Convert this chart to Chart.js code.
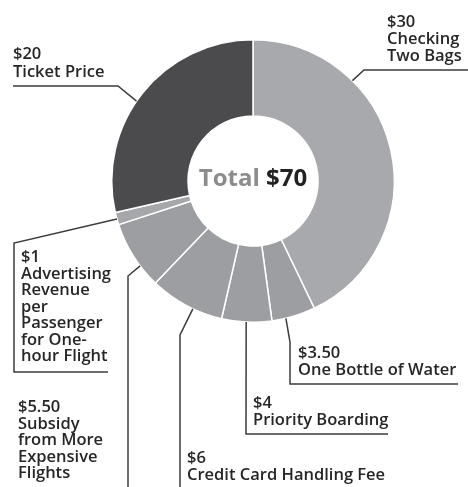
<!DOCTYPE html>
<html>
<head>
<meta charset="utf-8">
<script src="https://cdn.jsdelivr.net/npm/chart.js@4"></script>
<style>
  html, body { margin: 0; padding: 0; background: #fff; }
  #wrap { width: 468px; height: 487px; position: relative; }
</style>
</head>
<body>
<div id="wrap"><canvas id="fees"></canvas></div>
<script>
// what a $70 flight is made of
var categories = [
  ["Checking", "Two Bags"],
  ["One Bottle of Water"],
  ["Priority Boarding"],
  ["Credit Card Handling Fee"],
  ["Subsidy", "from More", "Expensive", "Flights"],
  ["Advertising", "Revenue", "per", "Passenger", "for One-", "hour Flight"],
  ["Ticket Price"]
];
var amounts = [30, 3.5, 4, 6, 5.5, 1, 20];
var totalLabel = ["Total", "$70"];

var sliceColors = ["#a8a9ac", "#9d9ea1", "#9d9ea1", "#9d9ea1", "#9d9ea1", "#a6a7aa", "#4b4b4e"];

// where each callout sits: text origin, line gap, where on the slice the
// leader starts (0..1 along the arc) and the bends it makes afterwards
var callouts = [
  { x: 387, y: 27,  gap: 17,   at: 0.29, path: [[364, 70], [468, 70]] },
  { x: 298, y: 358, gap: 17,   at: 0.68, path: [[290, 342], [290, 384], [458, 384]] },
  { x: 253, y: 408, gap: 17,   at: 0.51, path: [[246, 434], [388, 434]] },
  { x: 187, y: 463, gap: 16.5, at: 0.40, path: [[180, 335], [180, 487]] },
  { x: 18,  y: 412, gap: 16.5, at: 0.33, path: [[128, 276], [128, 487]] },
  { x: 21,  y: 262, gap: 16.5, at: 0.47, path: [[14, 243], [14, 372], [108, 372]] },
  { x: 13,  y: 59,  gap: 18,   at: 0.46, path: [[118, 86], [13, 86]] }
];

function money(v) {
  return "$" + (Number.isInteger(v) ? v : v.toFixed(2));
}

var calloutPlugin = {
  id: "callouts",
  afterDatasetsDraw: function(chart) {
    var ctx = chart.ctx;
    var arcs = chart.getDatasetMeta(0).data;
    ctx.save();

    // leader lines
    ctx.strokeStyle = "#3c3c3c";
    ctx.lineWidth = 1.5;
    ctx.lineJoin = "miter";
    arcs.forEach(function(arc, i) {
      var c = callouts[i];
      var p = arc.getProps(["x", "y", "startAngle", "endAngle", "outerRadius"], true);
      var a = p.startAngle + c.at * (p.endAngle - p.startAngle);
      ctx.beginPath();
      ctx.moveTo(p.x + Math.cos(a) * p.outerRadius, p.y + Math.sin(a) * p.outerRadius);
      c.path.forEach(function(pt) { ctx.lineTo(pt[0], pt[1]); });
      ctx.stroke();
    });

    // label text
    ctx.fillStyle = "#262626";
    ctx.textBaseline = "alphabetic";
    ctx.textAlign = "left";
    ctx.font = "600 16.5px 'Open Sans'";
    amounts.forEach(function(v, i) {
      var c = callouts[i];
      var lines = [money(v)].concat(categories[i]);
      lines.forEach(function(t, k) {
        ctx.fillText(t, c.x, c.y + k * c.gap);
      });
    });

    // total in the hole
    var cx = arcs[0].x, cy = arcs[0].y;
    ctx.font = "700 24px 'Open Sans'";
    var w1 = ctx.measureText(totalLabel[0] + " ").width;
    var w2 = ctx.measureText(totalLabel[1]).width;
    var left = cx - (w1 + w2) / 2;
    ctx.fillStyle = "#8c8c8e";
    ctx.fillText(totalLabel[0], left, cy + 5);
    ctx.fillStyle = "#222";
    ctx.fillText(totalLabel[1], left + w1, cy + 5);
    ctx.restore();
  }
};

new Chart(document.getElementById("fees"), {
  type: "doughnut",
  data: {
    labels: categories.map(function(c) { return c.join(" "); }),
    datasets: [{
      data: amounts,
      backgroundColor: sliceColors,
      borderColor: "#ffffff",
      borderWidth: 1.5
    }]
  },
  options: {
    responsive: true,
    maintainAspectRatio: false,
    animation: false,
    cutout: "46%",
    layout: { padding: { left: 111, right: 73, top: 39, bottom: 164 } },
    plugins: {
      legend: { display: false },
      tooltip: { enabled: false }
    }
  },
  plugins: [calloutPlugin]
});
</script>
</body>
</html>
